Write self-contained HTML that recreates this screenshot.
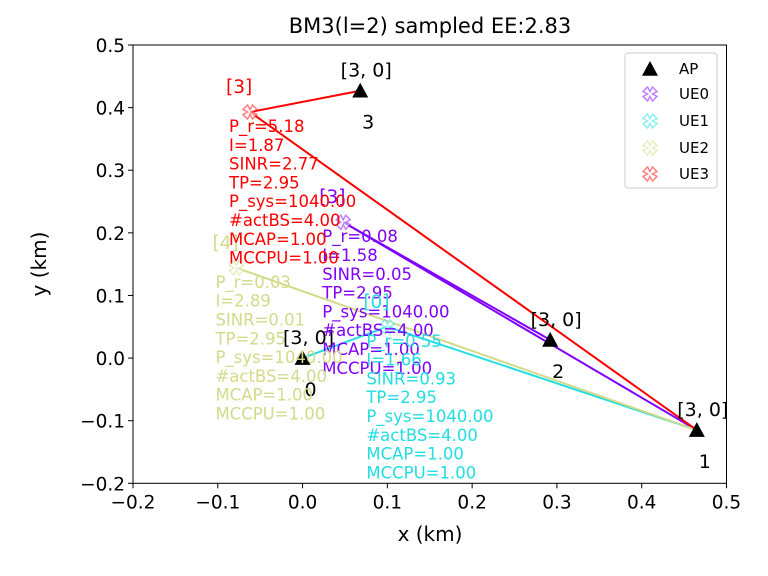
<!DOCTYPE html>
<html><head><meta charset="utf-8"><style>
body{margin:0;background:#fff;}
svg{display:block;font-family:"DejaVu Sans","Liberation Sans",sans-serif;}
</style></head><body>
<svg id="chart" width="768" height="576" viewBox="0 0 768 576" xmlns="http://www.w3.org/2000/svg">
<rect width="768" height="576" fill="#fff"/>
<text x="430" y="33" font-size="21" text-anchor="middle">BM3(l=2) sampled EE:2.83</text>
<g id="axes"></g>
<g id="lines"></g>
<g id="marks"></g>
<g id="labels"></g>
<rect x="133" y="45" width="593.5" height="438.3" fill="none" stroke="#000" stroke-width="1"/>
<text x="430" y="541" font-size="20" text-anchor="middle">x (km)</text>
<text x="0" y="0" font-size="20" text-anchor="middle" transform="translate(46,264) rotate(-90)">y (km)</text>
<g id="legend">
<rect x="625" y="53" width="92" height="135" rx="3" fill="#fff" stroke="#ccc" stroke-width="1"/>
</g>
</svg>
<script>
const xTicks=[-0.2,-0.1,0.0,0.1,0.2,0.3,0.4,0.5];
const yTicks=[-0.2,-0.1,0.0,0.1,0.2,0.3,0.4,0.5];
const apX=[0.0,0.465,0.292,0.068];
const apY=[0.0,-0.115,0.029,0.427];
const apLabels=["[3, 0]","[3, 0]","[3, 0]","[3, 0]"];
const ueX=[0.048,0.100,-0.078,-0.062];
const ueY=[0.217,0.050,0.144,0.393];
const ueTags=["[3]","[0]","[4]","[3]"];
const ueColors=["#8000ff","#22dde3","#d3da8a","#ff0000"];
const ueLinks=[[2,1],[0,1],[1],[3,1]];
const ueText=[
["P_r=0.08","I=1.58","SINR=0.05","TP=2.95","P_sys=1040.00","#actBS=4.00","MCAP=1.00","MCCPU=1.00"],
["P_r=0.55","I=1.66","SINR=0.93","TP=2.95","P_sys=1040.00","#actBS=4.00","MCAP=1.00","MCCPU=1.00"],
["P_r=0.03","I=2.89","SINR=0.01","TP=2.95","P_sys=1040.00","#actBS=4.00","MCAP=1.00","MCCPU=1.00"],
["P_r=5.18","I=1.87","SINR=2.77","TP=2.95","P_sys=1040.00","#actBS=4.00","MCAP=1.00","MCCPU=1.00"]];
const legendNames=["AP","UE0","UE1","UE2","UE3"];

const X0=133,X1=726.5,Y0=483.3,Y1=45;
const sx=v=>X0+(v+0.2)/0.7*(X1-X0);
const sy=v=>Y0-(v+0.2)/0.7*(Y0-Y1);
const NS="http://www.w3.org/2000/svg";
function mk(tag,attrs,parent,txt){const e=document.createElementNS(NS,tag);for(const k in attrs)e.setAttribute(k,attrs[k]);if(txt!==undefined)e.textContent=txt;parent.appendChild(e);return e;}
const axes=document.getElementById('axes'),lines=document.getElementById('lines'),marks=document.getElementById('marks'),labels=document.getElementById('labels'),legend=document.getElementById('legend');
const fmt=v=>(v<0?"\u2212":"")+Math.abs(v).toFixed(1);
xTicks.forEach(t=>{const x=sx(t);
 const l=mk('line',{x1:x,x2:x,y1:Y0,y2:Y0+5,stroke:'#000'},axes);
 
 
 const tx=mk('text',{x:x,y:Y0+25,'font-size':18.5,'text-anchor':'middle'},axes,fmt(t));
 
 });
yTicks.forEach(t=>{const y=sy(t);
 const l=mk('line',{x1:X0-5,x2:X0,y1:y,y2:y,stroke:'#000'},axes);
 
 
 const tx=mk('text',{x:X0-8,y:y+7,'font-size':18.5,'text-anchor':'end'},axes,fmt(t));
 
 });
function xmark(parent,cx,cy,color,s){
 const a=s*0.35,b=s;
 const pts=[[0,-a],[a,-b],[b,-a],[a,0],[b,a],[a,b],[0,a],[-a,b],[-b,a],[-a,0],[-b,-a],[-a,-b]];
 return mk('polygon',{points:pts.map(p=>(cx+p[0])+','+(cy+p[1])).join(' '),fill:'#fff','fill-opacity':0.6,stroke:color,'stroke-width':1.5,'stroke-opacity':0.5},parent);
}
function tri(parent,cx,cy,s){return mk('polygon',{points:`${cx},${cy-s} ${cx-s},${cy+s*0.85} ${cx+s},${cy+s*0.85}`,fill:'#000'},parent);}
ueLinks.forEach((lst,i)=>{lst.forEach(a=>{
 const l=mk('line',{x1:sx(ueX[i]),y1:sy(ueY[i]),x2:sx(apX[a]),y2:sy(apY[a]),stroke:ueColors[i],'stroke-width':2},lines);
 
 });});
apX.forEach((v,i)=>{const x=sx(v),y=sy(apY[i]);
 const t=tri(marks,x,y,8);
 
 
 const a=mk('text',{x:x+6,y:y-14,'font-size':19,'text-anchor':'middle'},labels,apLabels[i]);
 
 
 const b=mk('text',{x:x+8,y:y+38,'font-size':19,'text-anchor':'middle'},labels,String(i));
 
 });
ueX.forEach((v,i)=>{const x=sx(v),y=sy(ueY[i]);
 const m=xmark(marks,x,y,ueColors[i],7);
 
 
 const tg=mk('text',{x:x-24,y:y-19,'font-size':18.5,fill:ueColors[i]},labels,ueTags[i]);
 
 
 ueText[i].forEach((s,j)=>{
  const t=mk('text',{x:x-21,y:y+20+j*18.8,'font-size':16.5,fill:ueColors[i]},labels,s);
  
  });});
legendNames.forEach((n,i)=>{const y=[69,94,121,148,174][i];
 let m;
 if(i===0)m=tri(legend,650,y,8);else m=xmark(legend,650,y,ueColors[i-1],7);
 
 
 const t=mk('text',{x:679,y:y+5,'font-size':15},legend,n);
 
 });
</script>
</body></html>
